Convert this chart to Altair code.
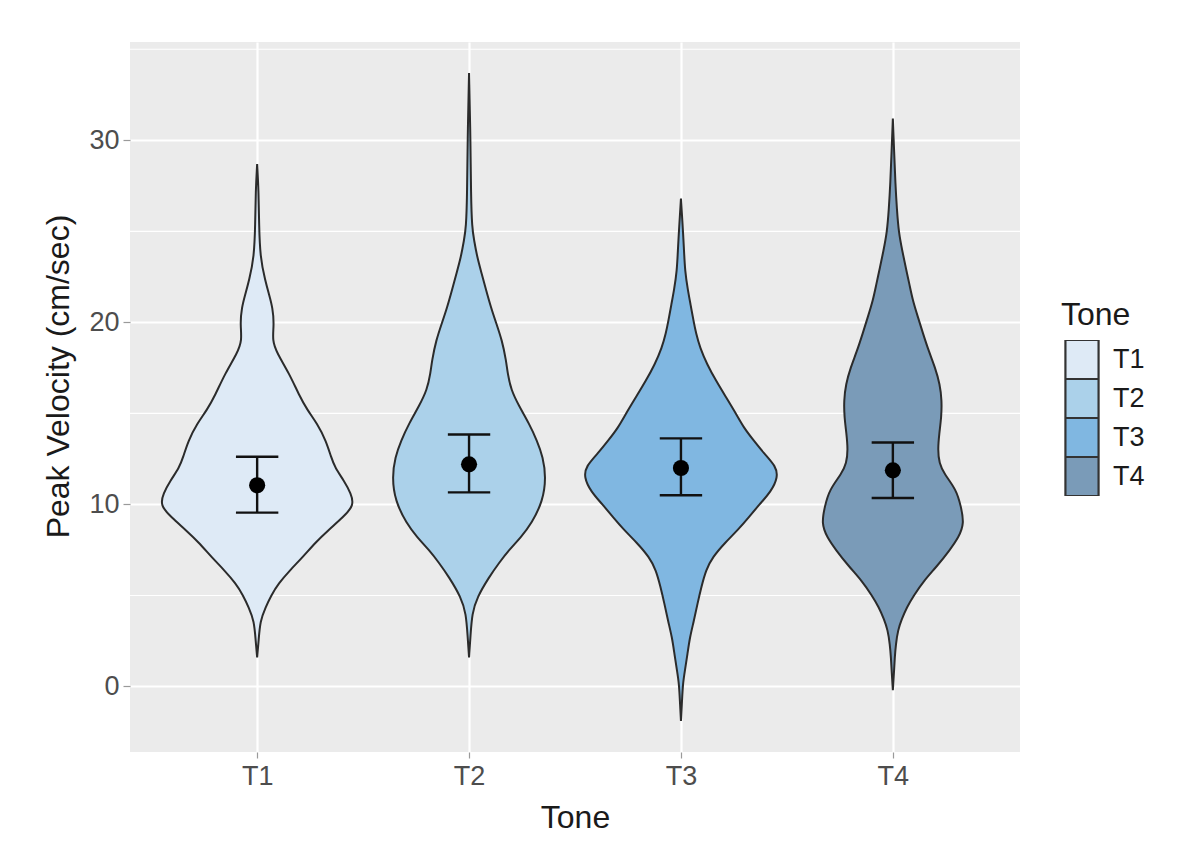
import altair as alt
import pandas as pd

tones = ["T1", "T2", "T3", "T4"]
fills = ["#DEEAF6", "#ABD1EA", "#80B7E1", "#7A9BB8"]

# violin outlines: velocity level and half-width (tone-axis units)
t1_v = [1.6, 2.5, 3.6, 4.35, 5.0, 5.66, 6.4, 7.1, 7.9, 8.6, 9.3, 9.95, 10.6, 11.3, 12.0, 12.6,
        13.5, 14.45, 15.2, 16.0, 17.2, 18.3, 19.0, 19.9, 20.8, 21.5, 22.3, 23.6, 25.4, 27.2, 28.7]
t1_w = [0.0, 0.007, 0.014, 0.040, 0.066, 0.101, 0.156, 0.215, 0.274, 0.337, 0.406, 0.458, 0.443,
        0.410, 0.368, 0.349, 0.325, 0.283, 0.236, 0.198, 0.151, 0.094, 0.071, 0.080, 0.073, 0.057,
        0.038, 0.014, 0.009, 0.007, 0.0]

t2_v = [1.6, 2.8, 4.0, 4.9, 6.0, 6.8, 7.5, 8.2, 8.95, 10.2, 11.5, 12.6, 13.5, 14.45, 15.4, 16.3,
        17.2, 17.9, 19.0, 20.0, 20.8, 21.8, 22.7, 23.6, 24.5, 25.2, 27.0, 30.0, 33.7]
t2_w = [0.0, 0.007, 0.014, 0.038, 0.094, 0.142, 0.189, 0.245, 0.295, 0.349, 0.363, 0.349, 0.321,
        0.283, 0.236, 0.198, 0.182, 0.175, 0.156, 0.127, 0.104, 0.080, 0.059, 0.038, 0.024, 0.014,
        0.009, 0.007, 0.0]

t3_v = [-1.9, -0.8, 0.15, 0.9, 1.8, 2.7, 3.6, 4.55, 5.5, 6.4, 7.1, 7.9, 8.6, 9.3, 10.0, 10.7, 11.5,
        12.1, 12.8, 13.5, 14.2, 15.0, 15.9, 16.8, 17.7, 18.6, 19.4, 20.1, 21.0, 21.75, 22.8, 24.1,
        25.5, 26.8]
t3_w = [0.0, 0.005, 0.009, 0.019, 0.031, 0.042, 0.061, 0.078, 0.097, 0.118, 0.149, 0.208, 0.269,
        0.321, 0.370, 0.425, 0.458, 0.448, 0.392, 0.344, 0.297, 0.259, 0.212, 0.165, 0.123, 0.090,
        0.071, 0.059, 0.045, 0.033, 0.019, 0.014, 0.007, 0.0]

t4_v = [-0.2, 0.7, 1.6, 2.3, 3.1, 3.7, 4.35, 5.0, 5.8, 6.6, 7.5, 8.2, 8.95, 9.9, 10.8, 11.7, 12.25,
        13.0, 13.9, 14.8, 15.7, 16.6, 17.5, 18.4, 19.4, 20.3, 21.2, 22.1, 23.0, 23.9, 24.9, 26.2,
        27.6, 29.4, 31.2]
t4_w = [0.0, 0.005, 0.009, 0.014, 0.024, 0.042, 0.066, 0.099, 0.146, 0.208, 0.269, 0.311, 0.337,
        0.321, 0.300, 0.241, 0.219, 0.212, 0.219, 0.229, 0.231, 0.222, 0.200, 0.170, 0.142, 0.118,
        0.094, 0.078, 0.061, 0.045, 0.028, 0.019, 0.012, 0.006, 0.0]

# mean and error bar ends per tone
means = [11.05, 12.2, 12.0, 11.87]
ci_low = [9.55, 10.66, 10.5, 10.35]
ci_high = [12.62, 13.84, 13.63, 13.4]

major_breaks = [0, 10, 20, 30]
minor_breaks = [5, 15, 25, 35]

FONT = "Liberation Sans"

rows = []
for i, (vs, ws) in enumerate(zip([t1_v, t2_v, t3_v, t4_v], [t1_w, t2_w, t3_w, t4_w])):
    for v, w in zip(vs, ws):
        rows.append({"tone": tones[i], "velocity": v, "left": i + 1 - w, "right": i + 1 + w})
violins = pd.DataFrame(rows)

err = pd.DataFrame({
    "tone": tones,
    "pos": [1, 2, 3, 4],
    "mean": means,
    "lo": ci_low,
    "hi": ci_high,
})
err["cap_l"] = err["pos"] - 0.1
err["cap_r"] = err["pos"] + 0.1

xscale = alt.Scale(domain=[0.4, 4.6], nice=False, zero=False)
yscale = alt.Scale(domain=[-3.6, 35.4], nice=False, zero=False)

ax_x = alt.Axis(values=[1, 2, 3, 4], labelExpr="'T' + datum.value", title="Tone",
                grid=True, gridColor="white", gridWidth=2.2, domain=False,
                tickColor="#9a9a9a", tickSize=6, tickWidth=1.2,
                labelFontSize=27, labelColor="#4d4d4d", labelFont=FONT, labelPadding=5,
                titleFontSize=32, titleColor="#1a1a1a", titleFont=FONT, titleFontWeight="normal",
                titleBaseline="alphabetic", titleY=75)
ax_y = alt.Axis(values=major_breaks, title="Peak Velocity (cm/sec)",
                grid=True, gridColor="white", gridWidth=2.2, domain=False,
                tickColor="#9a9a9a", tickSize=7, tickWidth=1.2,
                labelFontSize=27, labelColor="#4d4d4d", labelFont=FONT, labelPadding=4,
                titleFontSize=32, titleColor="#1a1a1a", titleFont=FONT, titleFontWeight="normal",
                titleBaseline="middle", titleX=-72, titleY=334)

minor = alt.Chart(pd.DataFrame({"velocity": minor_breaks})).mark_rule(
    color="white", strokeWidth=1.1
).encode(y=alt.Y("velocity:Q", scale=yscale, axis=ax_y))

violin = alt.Chart(violins).mark_area(
    orient="horizontal", interpolate="basis", stroke="#2b2b2b", strokeWidth=2
).encode(
    y=alt.Y("velocity:Q", scale=yscale, axis=ax_y),
    x=alt.X("left:Q", scale=xscale, axis=ax_x),
    x2="right:Q",
    color=alt.Color("tone:N", scale=alt.Scale(domain=tones, range=fills),
                    legend=alt.Legend(title="Tone", orient="none", legendX=931, legendY=258,
                                      padding=0, symbolType="M-0.85,-1H0.85V1H-0.85Z",
                                      symbolSize=1521, clipHeight=39,
                                      symbolStrokeColor="#333333", symbolStrokeWidth=2.2,
                                      symbolOpacity=1, rowPadding=0, labelOffset=10,
                                      titlePadding=8, labelFontSize=27, labelFont=FONT,
                                      labelColor="#1a1a1a", titleFontSize=32, titleFont=FONT,
                                      titleColor="#1a1a1a", titleFontWeight="normal")),
    detail="tone:N",
)

stems = alt.Chart(err).mark_rule(color="#111111", strokeWidth=2.4).encode(
    x=alt.X("pos:Q", scale=xscale, axis=ax_x),
    y=alt.Y("lo:Q", scale=yscale, axis=ax_y),
    y2="hi:Q",
)
caps_hi = alt.Chart(err).mark_rule(color="#111111", strokeWidth=2.4).encode(
    x=alt.X("cap_l:Q", scale=xscale, axis=ax_x),
    x2="cap_r:Q",
    y=alt.Y("hi:Q", scale=yscale, axis=ax_y),
)
caps_lo = alt.Chart(err).mark_rule(color="#111111", strokeWidth=2.4).encode(
    x=alt.X("cap_l:Q", scale=xscale, axis=ax_x),
    x2="cap_r:Q",
    y=alt.Y("lo:Q", scale=yscale, axis=ax_y),
)
dots = alt.Chart(err).mark_circle(color="black", opacity=1, size=260).encode(
    x=alt.X("pos:Q", scale=xscale, axis=ax_x),
    y=alt.Y("mean:Q", scale=yscale, axis=ax_y),
)

chart = alt.layer(minor, violin, stems, caps_hi, caps_lo, dots).properties(
    width=890,
    height=710,
    autosize="none",
    padding={"left": 122, "top": 34, "right": 170, "bottom": 90},
    background="white",
).configure_view(fill="#EBEBEB", stroke=None)

chart.save("out.html", embed_options={"renderer": "svg", "actions": False})
